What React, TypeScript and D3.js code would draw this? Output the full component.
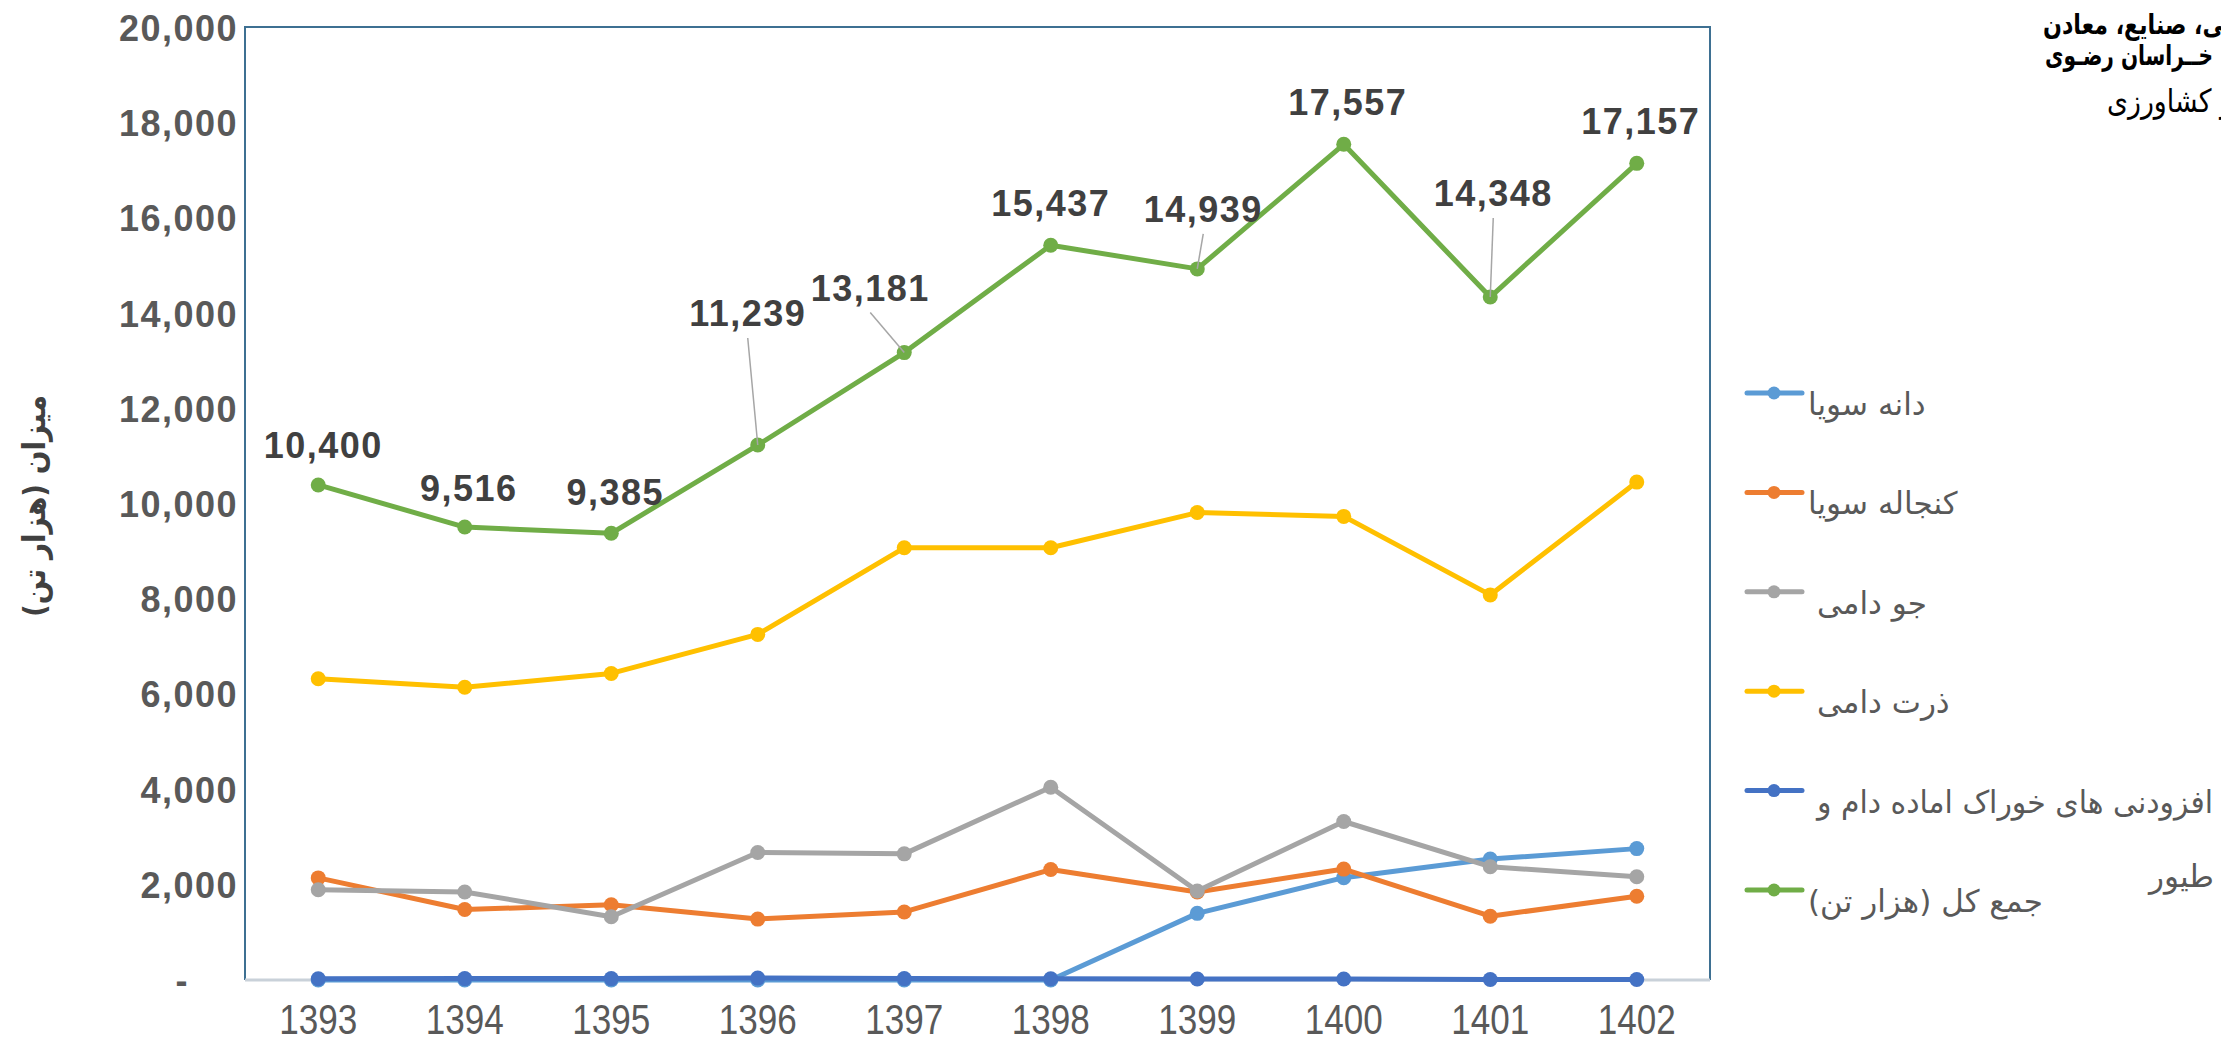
import { useEffect, useRef } from 'react';
import * as d3 from 'd3';

const years = ['1393', '1394', '1395', '1396', '1397', '1398', '1399', '1400', '1401', '1402'];

// هزار تن
const soybean = [0, 0, 0, 0, 0, 0, 1400, 2150, 2540, 2760];
const soyMeal = [2145, 1480, 1580, 1280, 1430, 2320, 1850, 2330, 1340, 1760];
const barley = [1895, 1850, 1330, 2680, 2650, 4050, 1870, 3330, 2380, 2170];
const corn = [6330, 6150, 6440, 7260, 9080, 9080, 9820, 9740, 8090, 10460];
const additives = [25, 30, 30, 40, 30, 25, 20, 20, 10, 10];
const total = [10400, 9516, 9385, 11239, 13181, 15437, 14939, 17557, 14348, 17157];

const seriesNames = [
  'دانه سویا',
  'کنجاله سویا',
  'جو دامی',
  'ذرت دامی',
  'افزودنی های خوراک اماده دام و',
  'جمع کل (هزار تن)',
];
const seriesColors = ['#5B9BD5', '#ED7D31', '#A5A5A5', '#FFC000', '#4472C4', '#70AD47'];
const yTicks = [0, 2000, 4000, 6000, 8000, 10000, 12000, 14000, 16000, 18000, 20000];

// where Excel put the total labels (dx, dy from the point) and which got a leader line
const labelShift = [[5, -27], [4, -26], [4, -28], [-10, -119], [-34, -52], [0, -29], [6, -47], [4, -29], [3, -91], [4, -29]];
const hasLeader = [false, false, false, true, true, false, true, false, true, false];

const W = 2221;
const H = 1043;

const App = () => {
  const svgRef = useRef<SVGSVGElement | null>(null);

  useEffect(() => {
    document.body.style.margin = '0';
    document.body.style.overflow = 'hidden';

    const svg = d3.select(svgRef.current);
    svg.selectAll('*').remove();
    svg.attr('width', W).attr('height', H);

    svg.append('rect').attr('width', W).attr('height', H).attr('fill', '#fff');

    const plot = { left: 245, right: 1710, top: 28, bottom: 980 };
    const x = d3.scaleBand().domain(years).range([plot.left, plot.right]);
    const y = d3.scaleLinear().domain([0, 20000]).range([plot.bottom, plot.top]);
    const cx = (d: string) => (x(d) as number) + x.bandwidth() / 2;

    // plot frame
    svg.append('path')
      .attr('d', `M${plot.left},${plot.bottom}V${plot.top - 1}H${plot.right}V${plot.bottom}`)
      .attr('fill', 'none')
      .attr('stroke', '#3E7092')
      .attr('stroke-width', 2);
    svg.append('line')
      .attr('x1', plot.left).attr('x2', plot.right)
      .attr('y1', plot.bottom).attr('y2', plot.bottom)
      .attr('stroke', '#C9D1D9')
      .attr('stroke-width', 3);

    // y tick labels
    const fmt = d3.format(',');
    svg.append('g')
      .selectAll('text')
      .data(yTicks)
      .enter()
      .append('text')
      .attr('x', d => (d === 0 ? 189 : 238))
      .attr('y', d => y(d) + 13)
      .attr('text-anchor', 'end')
      .attr('font-family', 'Liberation Sans, Arial, sans-serif')
      .attr('font-weight', 'bold')
      .attr('font-size', 36)
      .attr('letter-spacing', 1.5)
      .attr('fill', '#595959')
      .text(d => (d === 0 ? '-' : fmt(d)));

    // x tick labels
    svg.append('g')
      .selectAll('text')
      .data(years)
      .enter()
      .append('text')
      .attr('x', d => cx(d))
      .attr('y', 1034)
      .attr('text-anchor', 'middle')
      .attr('font-family', 'Liberation Sans, Arial, sans-serif')
      .attr('font-size', 42)
      .attr('textLength', 78)
      .attr('lengthAdjust', 'spacingAndGlyphs')
      .attr('fill', '#595959')
      .text(d => d);

    // y axis title
    svg.append('text')
      .attr('transform', 'translate(45,506) rotate(-90)')
      .attr('text-anchor', 'middle')
      .attr('direction', 'rtl')
      .attr('font-family', 'DejaVu Sans, sans-serif')
      .attr('font-weight', 'bold')
      .attr('font-size', 31)
      .attr('textLength', 222)
      .attr('lengthAdjust', 'spacingAndGlyphs')
      .attr('fill', '#404040')
      .text('میزان (هزار تن)');

    // lines + markers
    const allSeries = [soybean, soyMeal, barley, corn, additives, total];
    const line = d3.line<number>()
      .x((_, i) => cx(years[i]))
      .y(d => y(d));

    allSeries.forEach((values, s) => {
      const g = svg.append('g');
      g.append('path')
        .datum(values)
        .attr('d', line)
        .attr('fill', 'none')
        .attr('stroke', seriesColors[s])
        .attr('stroke-width', 5)
        .attr('stroke-linejoin', 'round');
      g.selectAll('circle')
        .data(values)
        .enter()
        .append('circle')
        .attr('cx', (_, i) => cx(years[i]))
        .attr('cy', d => y(d))
        .attr('r', 7.5)
        .attr('fill', seriesColors[s]);
    });

    // total labels
    const labels = svg.append('g');
    total.forEach((v, i) => {
      const px = cx(years[i]);
      const py = y(v);
      const lx = px + labelShift[i][0];
      const ly = py + labelShift[i][1];
      if (hasLeader[i]) {
        labels.append('line')
          .attr('x1', lx).attr('y1', ly + 12)
          .attr('x2', px).attr('y2', py)
          .attr('stroke', '#A6A6A6')
          .attr('stroke-width', 1.5);
      }
      labels.append('text')
        .attr('x', lx)
        .attr('y', ly)
        .attr('text-anchor', 'middle')
        .attr('font-family', 'Liberation Sans, Arial, sans-serif')
        .attr('font-weight', 'bold')
        .attr('font-size', 36)
        .attr('letter-spacing', 1.5)
        .attr('fill', '#404040')
        .text(fmt(v));
    });

    // legend
    const legend = svg.append('g');
    const textLeft = [1808, 1808, 1817, 1817, 1817, 1808];
    const rowY = (i: number) => 393 + i * 99.4;
    seriesNames.forEach((name, i) => {
      const ly = rowY(i);
      legend.append('line')
        .attr('x1', 1747).attr('x2', 1802)
        .attr('y1', ly).attr('y2', ly)
        .attr('stroke', seriesColors[i])
        .attr('stroke-width', 5)
        .attr('stroke-linecap', 'round');
      legend.append('circle')
        .attr('cx', 1774).attr('cy', ly)
        .attr('r', 6.5)
        .attr('fill', seriesColors[i]);
      const t = legend.append('text')
        .attr('x', textLeft[i])
        .attr('y', ly + 22)
        .attr('direction', 'rtl')
        .attr('text-anchor', 'end')
        .attr('font-family', 'DejaVu Sans, sans-serif')
        .attr('font-size', 31)
        .attr('fill', '#595959')
        .text(name);
      // the long name wraps in Excel; its first line fills the legend width
      if (i === 4) t.attr('textLength', 396).attr('lengthAdjust', 'spacingAndGlyphs');
    });
    legend.append('text')
      .attr('x', 2214)
      .attr('y', rowY(4) + 96)
      .attr('direction', 'rtl')
      .attr('text-anchor', 'start')
      .attr('font-family', 'DejaVu Sans, sans-serif')
      .attr('font-size', 31)
      .attr('fill', '#595959')
      .text('طیور');

    // source note, cut off at the right edge
    const note = svg.append('g')
      .attr('font-family', 'DejaVu Sans, sans-serif')
      .attr('fill', '#000')
      .attr('direction', 'rtl')
      .attr('text-anchor', 'end');
    note.append('text').attr('x', 2043).attr('y', 34).attr('font-size', 28).attr('font-weight', 'bold')
      .attr('textLength', 182).attr('lengthAdjust', 'spacingAndGlyphs')
      .text('\u200Dی، صنایع، معادن');
    note.append('text').attr('x', 2045).attr('y', 65).attr('font-size', 28).attr('font-weight', 'bold')
      .attr('textLength', 168).attr('lengthAdjust', 'spacingAndGlyphs')
      .text('خــراسان رضـوی');
    note.append('text').attr('x', 2107).attr('y', 112).attr('font-size', 32)
      .attr('textLength', 126).attr('lengthAdjust', 'spacingAndGlyphs')
      .text('و کشاورزی');
  }, []);

  return (
    <div>
      <svg ref={svgRef} style={{ display: 'block' }}></svg>
    </div>
  );
};

export default App;
